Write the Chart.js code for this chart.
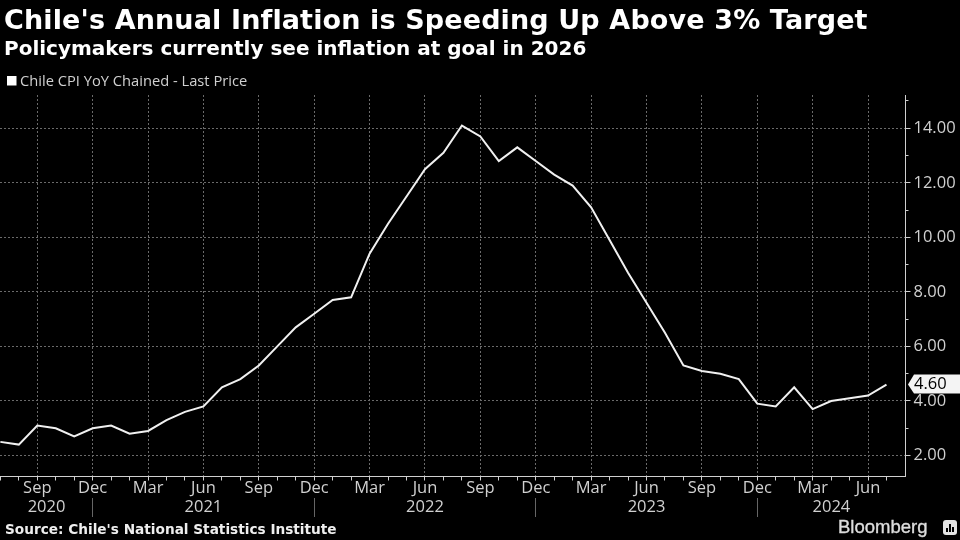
<!DOCTYPE html>
<html><head><meta charset="utf-8">
<script src="https://cdn.jsdelivr.net/npm/chart.js@4"></script>
<style>
html,body{margin:0;padding:0;background:#000;width:960px;height:540px;overflow:hidden}
#wrap{position:relative;width:960px;height:540px}
canvas{position:absolute;left:0;top:0}
.t{position:absolute;white-space:nowrap;color:#fff;font-family:"DejaVu Sans";font-weight:bold}
#logo{position:absolute;left:943px;top:520px;width:14px;height:15px;background:#e4e4e4;border-radius:3px}
#logo i{position:absolute;bottom:3px;width:2px;background:#000}
</style></head><body>
<div id="wrap">
<canvas id="c" width="960" height="540"></canvas>
<div class="t" id="title" style="left:4px;top:4px;font-size:27px;letter-spacing:.13px">Chile's Annual Inflation is Speeding Up Above 3% Target</div>
<div class="t" id="sub" style="left:4px;top:36px;font-size:20px;">Policymakers currently see inflation at goal in 2026</div>
<div class="t" id="src" style="left:5px;top:521px;font-size:13.67px;color:#eee">Source: Chile's National Statistics Institute</div>
<div class="t" id="bb" style="left:838px;top:516px;font-family:'Liberation Sans';font-weight:normal;-webkit-text-stroke:.35px #ddd;font-size:18.5px;color:#ddd;">Bloomberg</div>
<div id="logo"><i style="left:3px;height:4px"></i><i style="left:6px;height:8px"></i><i style="left:9px;height:5px"></i></div>
</div>
<script>
const months = ["Jul","Aug","Sep","Oct","Nov","Dec","Jan","Feb","Mar","Apr","May","Jun",
 "Jul","Aug","Sep","Oct","Nov","Dec","Jan","Feb","Mar","Apr","May","Jun",
 "Jul","Aug","Sep","Oct","Nov","Dec","Jan","Feb","Mar","Apr","May","Jun",
 "Jul","Aug","Sep","Oct","Nov","Dec","Jan","Feb","Mar","Apr","May","Jun","Jul"];
const cpi = [2.5,2.4,3.1,3.0,2.7,3.0,3.1,2.8,2.9,3.3,3.6,3.8,
 4.5,4.8,5.3,6.0,6.7,7.2,7.7,7.8,9.4,10.5,11.5,12.5,
 13.1,14.1,13.7,12.8,13.3,12.8,12.3,11.9,11.1,9.9,8.7,7.6,
 6.5,5.3,5.1,5.0,4.8,3.9,3.8,4.5,3.7,4.0,4.1,4.2,4.6];
const years = ["2020","2021","2022","2023","2024"];
const majorY = [2,4,6,8,10,12,14];
const minorY = [3,5,7,9,11,13,15];
const seriesName = "Chile CPI YoY Chained - Last Price";

const XMIN = -0.02, XMAX = 49.03, YMIN = 1.23, YMAX = 15.22;
const AXIS = "#cfcfcf", GRID = "#6a6a6a", TXT = "#d0d0d0";
const TICKFONT = {family:"Open Sans", size:16.5};

const quarterly = i => (i - 2) % 3 === 0;
const dividers = months.map((m,i)=>m==="Dec"?i:-1).filter(i=>i>=0);
const bounds = [0,...dividers,XMAX];
const yearAt = new Map(years.map((y,i)=>[(bounds[i]+bounds[i+1])/2,y]));

const annotations = {
  id:"annotations",
  afterDraw(chart){
    const {ctx,scales} = chart;
    const v = cpi[cpi.length-1], y = scales.y.getPixelForValue(v), x = scales.y.left + 2.5;
    ctx.save();
    ctx.fillStyle = "#f4f4f4";
    ctx.beginPath();
    ctx.moveTo(x,y); ctx.lineTo(x+6,y-10); ctx.lineTo(960,y-10); ctx.lineTo(960,y+9); ctx.lineTo(x+6,y+9);
    ctx.closePath(); ctx.fill();
    ctx.fillStyle = "#000"; ctx.font = "16.5px 'Open Sans'";
    ctx.textBaseline = "middle"; ctx.textAlign = "left";
    ctx.fillText(v.toFixed(2), 914, y);
    // legend key and label
    ctx.fillStyle = "#fff"; ctx.fillRect(7,76,9.5,9.5);
    ctx.fillStyle = TXT; ctx.font = "14.7px 'Open Sans'";
    ctx.fillText(seriesName, 20, 82);
    ctx.restore();
  }
};

new Chart(document.getElementById("c"),{
  type:"line",
  data:{datasets:[{label:seriesName,
    data:cpi.map((v,i)=>({x:i,y:v})),
    borderColor:"#f0f0f0",backgroundColor:"#fff",borderWidth:2,pointRadius:0,tension:0,
    borderJoinStyle:"miter",xAxisID:"x",yAxisID:"y"}]},
  options:{
    responsive:false,animation:false,
    layout:{padding:{top:95,left:0,right:0,bottom:0}},
    plugins:{tooltip:{enabled:false},title:{display:false},legend:{display:false}},
    scales:{
      x:{type:"linear",position:"bottom",weight:0,min:XMIN,max:XMAX,
        afterBuildTicks:s=>{s.ticks=months.map((m,i)=>({value:i}));},
        afterFit:s=>{s.height=21.5;},
        border:{display:true,color:AXIS,width:1,dash:[2,2]},
        grid:{drawOnChartArea:true,drawTicks:true,tickLength:4,
          color:c=>c.tick&&quarterly(c.tick.value)?GRID:"rgba(0,0,0,0)",
          tickColor:AXIS,lineWidth:1},
        ticks:{autoSkip:false,maxRotation:0,minRotation:0,color:TXT,font:TICKFONT,padding:-2,
          callback:v=>quarterly(v)?months[v]:""}},
      x2:{type:"linear",position:"bottom",weight:1,min:XMIN,max:XMAX,
        afterBuildTicks:s=>{s.ticks=[...dividers,...yearAt.keys()].map(v=>({value:v}));},
        afterFit:s=>{s.height=42;},
        border:{display:false},
        grid:{drawOnChartArea:false,drawTicks:true,tickLength:19,
          tickColor:c=>c.tick&&dividers.includes(c.tick.value)?"#666":"rgba(0,0,0,0)"},
        ticks:{autoSkip:false,maxRotation:0,minRotation:0,color:TXT,font:TICKFONT,padding:-20,
          callback:v=>yearAt.get(v)||""}},
      y:{type:"linear",position:"right",weight:0,min:YMIN,max:YMAX,
        afterBuildTicks:s=>{s.ticks=majorY.map(v=>({value:v}));},
        afterFit:s=>{s.width=54.5;},
        border:{display:true,color:AXIS,width:1,dash:[2,2]},
        grid:{drawOnChartArea:true,drawTicks:true,tickLength:5,color:GRID,tickColor:AXIS},
        ticks:{color:TXT,font:TICKFONT,padding:3,callback:v=>v.toFixed(2)}},
      y2:{type:"linear",position:"right",weight:-1,min:YMIN,max:YMAX,
        afterBuildTicks:s=>{s.ticks=minorY.map(v=>({value:v}));},
        afterFit:s=>{s.width=0;},
        border:{display:false},
        grid:{drawOnChartArea:false,drawTicks:true,tickLength:3,tickColor:AXIS},
        ticks:{display:false}}
    }
  },
  plugins:[annotations]
});
</script>
</body></html>
